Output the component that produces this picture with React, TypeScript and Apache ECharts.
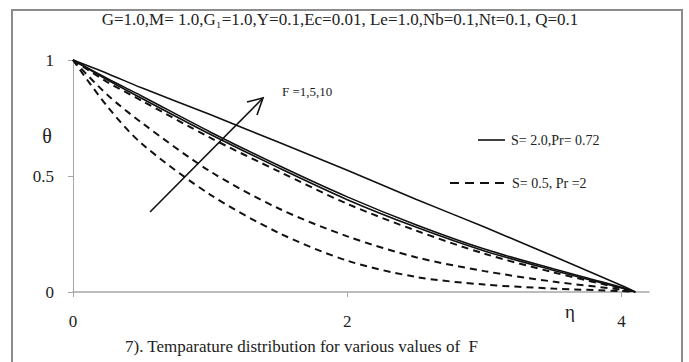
import React, { useEffect, useRef } from "react";
import * as echarts from "echarts";

const eta = [0, 0.25, 0.5, 1, 1.5, 2, 2.5, 3, 3.5, 4, 4.1];
const solidA = [1, 0.942, 0.88, 0.765, 0.645, 0.525, 0.4, 0.28, 0.155, 0.028, 0];
const solidB = [1, 0.92, 0.845, 0.69, 0.545, 0.41, 0.29, 0.185, 0.1, 0.02, 0];
const solidC = [1, 0.915, 0.835, 0.68, 0.535, 0.398, 0.28, 0.177, 0.094, 0.017, 0];
const dashA = [1, 0.905, 0.825, 0.665, 0.52, 0.38, 0.265, 0.165, 0.085, 0.015, 0];
const dashB = [1, 0.85, 0.73, 0.52, 0.36, 0.24, 0.15, 0.09, 0.045, 0.01, 0];
const dashC = [1, 0.8, 0.64, 0.42, 0.255, 0.135, 0.065, 0.032, 0.015, 0.004, 0];

const xTicks = [0, 2, 4];
const yTicks = [0, 0.5, 1];

const solidName = "S= 2.0,Pr= 0.72";
const dashName = "S= 0.5, Pr =2";
const titleText = "G=1.0,M= 1.0,G\u2081=1.0,Y=0.1,Ec=0.01, Le=1.0,Nb=0.1,Nt=0.1, Q=0.1";
const captionText = "7). Temparature distribution for various values of  F";
const arrowLabel = "F =1,5,10";

const FONT = "'Liberation Serif', 'Times New Roman', serif";
const INK = "#111";

export default function App() {
  const ref = useRef<HTMLDivElement>(null);
  useEffect(() => {
    if (!ref.current) return;
    const chart = echarts.init(ref.current, null, { renderer: "svg" });
    const pair = (ys: number[]) => eta.map((x, i) => [x, ys[i]]);
    const solidStyle = { color: INK, width: 1.6, type: "solid" as const };
    const dashStyle = { color: INK, width: 2, type: [7, 5] };
    const mk = (name: string, ys: number[], dashed: boolean) => ({
      type: "line",
      name,
      data: pair(ys),
      smooth: 0.3,
      symbol: "none",
      showSymbol: false,
      lineStyle: dashed ? dashStyle : solidStyle,
      itemStyle: { color: INK },
    });
    const txt = (x: number, y: number, text: string, size: number, align = "left") => ({
      type: "text",
      x,
      y,
      silent: true,
      style: { text, fontFamily: FONT, fontSize: size, fill: "#222", align, verticalAlign: "middle" },
    });
    chart.setOption({
      animation: false,
      backgroundColor: "#fff",
      textStyle: { fontFamily: FONT },
      grid: { left: 73, right: 40, top: 60, bottom: 70 },
      xAxis: {
        type: "value",
        min: 0,
        max: 4.2,
        interval: 2,
        splitLine: { show: false },
        axisLine: { lineStyle: { color: "#a6a6a6", width: 1.5 } },
        axisTick: { show: true, length: 5, lineStyle: { color: "#a6a6a6" }, customValues: xTicks },
        axisLabel: { margin: 21, color: "#222", fontSize: 17, fontFamily: FONT, customValues: xTicks },
      },
      yAxis: {
        type: "value",
        min: 0,
        max: 1,
        interval: 0.5,
        splitLine: { show: false },
        axisLine: { show: true, lineStyle: { color: "#a6a6a6", width: 1 } },
        axisTick: { show: true, length: 5, lineStyle: { color: "#a6a6a6" }, customValues: yTicks },
        axisLabel: { margin: 19, color: "#222", fontSize: 17, fontFamily: FONT, customValues: yTicks },
      },
      series: [
        mk(solidName, solidA, false),
        mk(solidName, solidB, false),
        mk(solidName, solidC, false),
        mk(dashName, dashA, true),
        mk(dashName, dashB, true),
        mk(dashName, dashC, true),
      ],
      graphic: [
        {
          type: "rect",
          silent: true,
          shape: { x: 12, y: 10, width: 670, height: 370 },
          style: { fill: "none", stroke: "#8c8c8c", lineWidth: 2 },
        },
        txt(340, 19, titleText, 17, "center"),
        txt(47, 136, "\u03b8", 20, "center"),
        txt(570, 311, "\u03b7", 19, "center"),
        txt(282, 91, arrowLabel, 13),
        txt(125, 346, captionText, 17),
        {
          type: "line",
          silent: true,
          shape: { x1: 478, y1: 140, x2: 505, y2: 140 },
          style: { stroke: INK, lineWidth: solidStyle.width },
        },
        txt(511, 140, solidName, 14),
        {
          type: "line",
          silent: true,
          shape: { x1: 450, y1: 183, x2: 504, y2: 183 },
          style: { stroke: INK, lineWidth: dashStyle.width, lineDash: [9, 6] },
        },
        txt(512, 183, dashName, 14),
        {
          type: "line",
          silent: true,
          shape: { x1: 150, y1: 212, x2: 263, y2: 98 },
          style: { stroke: INK, lineWidth: 1.6 },
        },
        {
          type: "polyline",
          silent: true,
          shape: { points: [[247, 102], [263, 98], [257, 115]] },
          style: { stroke: INK, lineWidth: 1.6, fill: "none" },
        },
      ],
    });
    return () => chart.dispose();
  }, []);
  return (
    <div
      ref={ref}
      style={{ position: "absolute", left: 0, top: 0, width: 689, height: 362 }}
    />
  );
}
